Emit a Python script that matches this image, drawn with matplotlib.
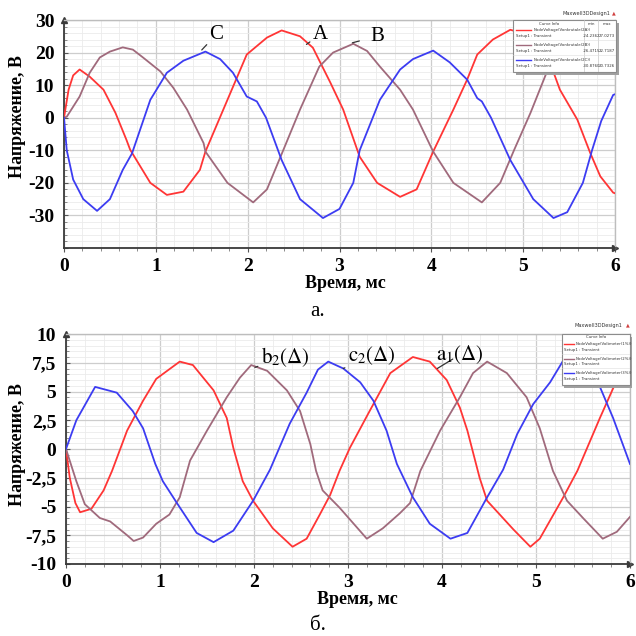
import matplotlib
matplotlib.use("Agg")
import matplotlib.pyplot as plt
from matplotlib.patches import Rectangle
from matplotlib.ticker import MultipleLocator, FuncFormatter

# ---- chart a: phase voltages A, B, C ----
a_red_t = [0, 0.05, 0.1, 0.17, 0.28, 0.43, 0.56, 0.68, 0.72, 0.94, 1.12, 1.3, 1.48, 1.54,
           1.78, 1.99, 2.21, 2.37, 2.57, 2.71, 2.9, 3.04, 3.22, 3.41, 3.66, 3.84, 4.02,
           4.24, 4.39, 4.5, 4.67, 4.86, 5.05, 5.2, 5.33, 5.4, 5.59, 5.73, 5.84, 5.98, 6.0]
a_red_v = [0, 8.6, 13, 14.8, 12.6, 8.6, 1.5, -6.8, -9.8, -20, -23.7, -22.7, -16, -10.4,
           5.5, 19.4, 24.6, 26.8, 25, 21.5, 10.8, 2.5, -12, -20, -24.3, -22, -10.4,
           2.5, 11.7, 19.4, 24, 27, 25.5, 20, 14, 8.6, -0.6, -10.8, -18, -23, -23.2]

a_mauve_t = [0, 0.03, 0.17, 0.28, 0.39, 0.5, 0.64, 0.75, 0.86, 1.05, 1.19, 1.34, 1.52, 1.54,
             1.78, 2.06, 2.21, 2.39, 2.57, 2.78, 2.93, 3.15, 3.3, 3.44, 3.66, 3.8, 4.02,
             4.24, 4.55, 4.75, 4.9, 5.08, 5.26, 5.45, 5.65, 5.85, 6.0]
a_mauve_v = [0, 0.3, 6.5, 13.8, 18.5, 20.3, 21.6, 20.9, 18.5, 14.2, 9.2, 2.5, -7.8, -10.4,
             -20, -26, -22, -9.8, 2.5, 15.7, 20, 22.7, 20.5, 15.7, 8.6, 2.5, -10.4,
             -20, -26, -20, -10, 1.5, 14.2, 20.5, 22.7, 20, 15]

a_blue_t = [0, 0.03, 0.1, 0.21, 0.36, 0.5, 0.64, 0.74, 0.94, 1.12, 1.3, 1.54, 1.7, 1.84,
            1.99, 2.1, 2.2, 2.37, 2.57, 2.82, 3.0, 3.15, 3.22, 3.44, 3.66, 3.8, 4.02,
            4.2, 4.39, 4.5, 4.55, 4.65, 4.86, 5.11, 5.33, 5.48, 5.65, 5.75, 5.85, 5.98, 6.0]
a_blue_v = [0, -10, -19, -25, -28.6, -25, -16, -11, 5.5, 13.8, 17.5, 20.3, 18, 13.8,
            6.5, 5, 0, -13, -25, -30.8, -28, -20, -10, 5.5, 14.8, 18, 20.6,
            17, 11.7, 6, 5, 0, -13, -25, -30.8, -29, -20, -10, -1, 7, 7.2]

# ---- chart b: line voltages ----
b_red_t = [0, 0.04, 0.1, 0.15, 0.27, 0.4, 0.49, 0.65, 0.82, 0.96, 1.21, 1.35, 1.57, 1.71,
           1.78, 1.88, 1.99, 2.2, 2.41, 2.56, 2.7, 2.81, 2.91, 3.02, 3.23, 3.45, 3.69,
           3.87, 4.05, 4.19, 4.27, 4.4, 4.48, 4.76, 4.94, 5.04, 5.29, 5.44, 5.68, 5.86, 6.0]
b_red_v = [0, -2.5, -4.7, -5.5, -5.2, -3.6, -1.9, 1.6, 4.2, 6.1, 7.6, 7.3, 5.1, 2.7,
           0.1, -2.8, -4.5, -6.9, -8.5, -7.8, -5.7, -4.0, -1.9, 0.1, 3.3, 6.6, 8.0,
           7.6, 6.0, 3.6, 1.6, -2.5, -4.5, -7.0, -8.5, -7.8, -4.2, -1.9, 2.7, 6.0, 7.5]

b_blue_t = [0, 0.11, 0.31, 0.54, 0.71, 0.82, 0.95, 1.03, 1.18, 1.39, 1.57, 1.78, 1.99, 2.17,
            2.38, 2.56, 2.68, 2.79, 2.95, 3.13, 3.27, 3.41, 3.52, 3.69, 3.87, 4.09, 4.27,
            4.48, 4.65, 4.8, 4.97, 5.15, 5.29, 5.42, 5.55, 5.68, 5.82, 6.0]
b_blue_v = [0, 2.5, 5.4, 4.9, 3.3, 1.8, -1.3, -2.8, -4.7, -7.3, -8.1, -7.1, -4.5, -1.8,
            2.2, 4.9, 6.9, 7.6, 7.0, 5.8, 4.2, 1.6, -1.3, -4.2, -6.5, -7.8, -7.3,
            -4.2, -1.8, 1.3, 3.9, 5.8, 7.7, 8.0, 7.0, 5.4, 2.7, -1.3]

b_mauve_t = [0, 0.11, 0.2, 0.36, 0.47, 0.65, 0.72, 0.82, 0.96, 1.1, 1.21, 1.32, 1.5, 1.71,
             1.85, 1.97, 2.14, 2.35, 2.49, 2.6, 2.66, 2.73, 2.91, 3.2, 3.37, 3.55, 3.66,
             3.77, 3.98, 4.19, 4.33, 4.48, 4.69, 4.9, 5.04, 5.18, 5.33, 5.5, 5.71, 5.86, 6.0]
b_mauve_v = [0, -2.8, -4.8, -6.0, -6.3, -7.5, -8.0, -7.7, -6.5, -5.7, -4.2, -1.0, 1.6, 4.5,
             6.2, 7.3, 6.8, 5.1, 3.3, 0.4, -1.9, -3.6, -5.1, -7.8, -6.9, -5.6, -4.7,
             -1.9, 1.6, 4.5, 6.6, 7.6, 6.6, 4.5, 1.8, -1.9, -4.5, -6.0, -7.8, -7.2, -5.9]

RED = "#ff3535"
MAUVE = "#a06a7c"
BLUE = "#3c3cf2"
W = H = 636

plt.rcParams["font.family"] = ["Liberation Serif", "DejaVu Serif"]
plt.rcParams["mathtext.fontset"] = "stix"

fig = plt.figure(figsize=(6.36, 6.36), dpi=100)


def px_axes(left, top, right, bottom):
    return fig.add_axes([left / W, 1 - bottom / H, (right - left) / W, (bottom - top) / H])


def style_axes(ax, ylim, ymajor, yminor, fmt):
    ax.set_xlim(0, 6)
    ax.set_ylim(*ylim)
    ax.xaxis.set_major_locator(MultipleLocator(1))
    ax.xaxis.set_minor_locator(MultipleLocator(0.2))
    ax.yaxis.set_major_locator(MultipleLocator(ymajor))
    ax.yaxis.set_minor_locator(MultipleLocator(yminor))
    ax.yaxis.set_major_formatter(FuncFormatter(fmt))
    ax.grid(which="major", color="#cdcdcd", lw=0.9)
    ax.grid(which="minor", color="#ebebeb", lw=0.6)
    ax.set_axisbelow(True)
    for side in ("left", "bottom"):
        ax.spines[side].set_color("#3a3a3a")
        ax.spines[side].set_linewidth(1.3)
    for side in ("top", "right"):
        ax.spines[side].set_color("#bdbdbd")
        ax.spines[side].set_linewidth(1.0)
    ax.tick_params(which="major", length=3, width=0.8, color="#555555", labelsize=14, pad=4)
    ax.tick_params(which="minor", length=2, width=0.6, color="#777777")
    ax.tick_params(axis="y", which="both", direction="in", pad=7)
    for lab in ax.get_xticklabels() + ax.get_yticklabels():
        lab.set_fontweight("bold")
    # arrow tips at the ends of the axes
    ax.plot([0], [1], marker="^", ms=4, color="#3a3a3a", transform=ax.transAxes, clip_on=False)
    ax.plot([1], [0], marker=">", ms=4, color="#3a3a3a", transform=ax.transAxes, clip_on=False)


def curve_info(left, top, right, bottom, rows, minmax, title_x, title_y):
    fig.text(title_x / W, 1 - title_y / H, "Maxwell3DDesign1", fontsize=3.6,
             family="DejaVu Sans", ha="right", va="center", color="#333333")
    fig.text((right - 2) / W, 1 - (title_y - 1) / H, "▲", fontsize=3.5,
             family="DejaVu Sans", ha="center", va="center", color="#d04040")
    lax = px_axes(left, top, right, bottom)
    lax.set_xlim(0, 1)
    lax.set_ylim(0, 1)
    lax.axis("off")
    lax.add_patch(Rectangle((0.025, -0.05), 1, 1, facecolor="#a0a0a0", edgecolor="none",
                            clip_on=False, zorder=0))
    lax.add_patch(Rectangle((0, 0), 1, 1, facecolor="white", edgecolor="#8c8c8c", lw=0.8,
                            clip_on=False, zorder=1))
    txt = dict(fontsize=2.8, family="DejaVu Sans", color="#333333", va="center", zorder=3)
    if minmax:
        lax.text(0.35, 0.92, "Curve Info", ha="center", **txt)
        lax.text(0.76, 0.92, "min", ha="center", **txt)
        lax.text(0.91, 0.92, "max", ha="center", **txt)
        for xs in (0.69, 0.83):
            lax.plot([xs, xs], [0, 1], color="#c8c8c8", lw=0.5, zorder=2)
    else:
        lax.text(0.5, 0.94, "Curve Info", ha="center", **txt)
    n = len(rows)
    for i, (name, color, lo, hi) in enumerate(rows):
        yc = 0.86 - i * (0.86 / n)
        lax.plot([0.03, 0.17], [yc - 0.06, yc - 0.06], color=color, lw=1.0, zorder=3)
        lax.text(0.2, yc - 0.06, name, ha="left", **txt)
        lax.text(0.03, yc - 0.17, "Setup1 : Transient", ha="left", **txt)
        if minmax:
            lax.text(0.76, yc - 0.17, lo, ha="center", **txt)
            lax.text(0.91, yc - 0.17, hi, ha="center", **txt)
        if i > 0:
            lax.plot([0, 1], [yc + 0.04, yc + 0.04], color="#dddddd", lw=0.4, zorder=2)


label_font = dict(fontsize=13, fontweight="bold")

# ---- chart a ----
ax1 = px_axes(64, 20, 615, 248)
style_axes(ax1, (-40, 30), 10, 2,
           lambda v, p: "" if v < -35 else f"{v:.0f}")
ax1.plot(a_red_t, a_red_v, color=RED, lw=1.3, zorder=3)
ax1.plot(a_mauve_t, a_mauve_v, color=MAUVE, lw=1.3, zorder=3)
ax1.plot(a_blue_t, a_blue_v, color=BLUE, lw=1.3, zorder=3)

ann = dict(fontsize=15, ha="center", va="center",
           arrowprops=dict(arrowstyle="-", color="#333333", lw=0.9, shrinkA=6, shrinkB=0))
ax1.annotate("C", xy=(1.5, 20.8), xytext=(1.66, 25.6), **ann)
ax1.annotate("A", xy=(2.64, 22.5), xytext=(2.79, 25.6), **ann)
ax1.annotate("B", xy=(3.14, 23.0), xytext=(3.41, 25.0), **ann)

fig.text(18 / W, 1 - 117 / H, "Напряжение, В", rotation=90, ha="center", va="center",
         **label_font)
fig.text(345 / W, 1 - 283 / H, "Время, мс", ha="center", va="center", **label_font)
fig.text(318 / W, 1 - 312 / H, "а.", ha="center", va="center", fontsize=15)

curve_info(513, 20, 616, 72,
           [("NodeVoltage(Vonkrutale(2A))", RED, "-24.2362", "27.0273"),
            ("NodeVoltage(Vonkrutale(2B))", MAUVE, "-26.4715", "22.7187"),
            ("NodeVoltage(Vonkrutale(2C))", BLUE, "-30.8760", "20.7326")],
           True, 610, 14)

# ---- chart b ----
ax2 = px_axes(66, 334, 630, 564)
style_axes(ax2, (-10, 10), 2.5, 0.5,
           lambda v, p: f"{v:g}".replace(".", ","))
ax2.plot(b_red_t, b_red_v, color=RED, lw=1.3, zorder=3)
ax2.plot(b_mauve_t, b_mauve_v, color=MAUVE, lw=1.3, zorder=3)
ax2.plot(b_blue_t, b_blue_v, color=BLUE, lw=1.3, zorder=3)

ax2.annotate(r"$\mathrm{b}_2(\Delta)$", xy=(2.01, 7.1), xytext=(2.33, 8.0), **ann)
ax2.annotate(r"$\mathrm{c}_2(\Delta)$", xy=(2.95, 7.0), xytext=(3.25, 8.1), **ann)
ax2.annotate(r"$\mathrm{a}_1(\Delta)$", xy=(3.95, 7.0), xytext=(4.19, 8.2), **ann)

fig.text(18 / W, 1 - 445 / H, "Напряжение, В", rotation=90, ha="center", va="center",
         **label_font)
fig.text(357 / W, 1 - 600 / H, "Время, мс", ha="center", va="center", **label_font)
fig.text(318 / W, 1 - 625 / H, "б.", ha="center", va="center", fontsize=15)

curve_info(562, 334, 630, 385,
           [("NodeVoltage(Voltmeter(1%))", RED, "", ""),
            ("NodeVoltage(Voltmeter(2%))", MAUVE, "", ""),
            ("NodeVoltage(Voltmeter(3%))", BLUE, "", "")],
           False, 622, 326)

fig.savefig("out.png", dpi=100)
